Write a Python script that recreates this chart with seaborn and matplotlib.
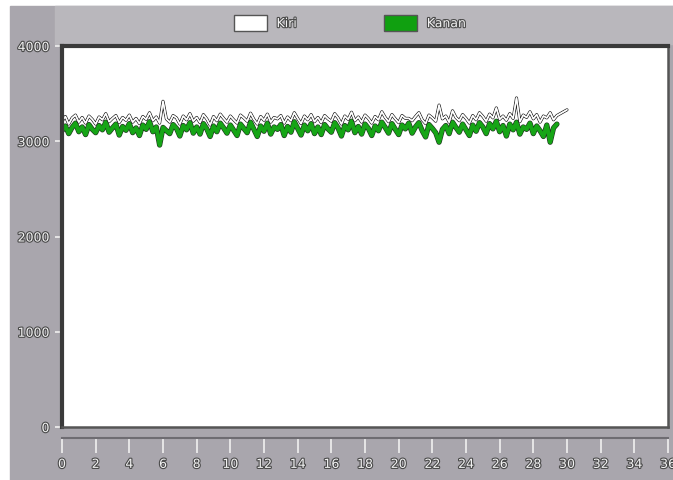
"""
Kiri / Kanan signal chart in a LabVIEW-like panel.
"""

## Import packages
import numpy as np
import pandas as pd
import matplotlib.pyplot as plt
import matplotlib.patheffects as pe
from matplotlib.patches import Rectangle, Patch
import seaborn as sns


## Data (sample step 0.2 s)
kiri = [3210, 3260, 3180, 3245, 3275, 3200, 3250, 3190, 3265, 3230,
        3180, 3255, 3225, 3290, 3205, 3240, 3270, 3195, 3250, 3220,
        3275, 3200, 3240, 3185, 3260, 3230, 3300, 3215, 3255, 3190,
        3420, 3235, 3200, 3270, 3245, 3180, 3265, 3225, 3290, 3210,
        3250, 3195, 3280, 3235, 3170, 3260, 3215, 3285, 3240, 3200,
        3265, 3225, 3190, 3275, 3245, 3210, 3295, 3230, 3180, 3260,
        3220, 3285, 3200, 3250, 3235, 3270, 3190, 3255, 3215, 3300,
        3240, 3185, 3265, 3225, 3280, 3205, 3250, 3195, 3270, 3235,
        3210, 3290, 3245, 3180, 3265, 3230, 3305, 3215, 3255, 3200,
        3275, 3240, 3190, 3260, 3225, 3310, 3250, 3205, 3280, 3235,
        3195, 3270, 3240, 3240, 3215, 3260, 3300, 3225, 3185, 3275,
        3245, 3210, 3380, 3235, 3265, 3200, 3320, 3250, 3215, 3280,
        3240, 3190, 3270, 3225, 3300, 3260, 3210, 3285, 3245, 3350,
        3230, 3265, 3220, 3290, 3240, 3455, 3205, 3275, 3250, 3310,
        3235, 3280, 3200, 3265, 3245, 3300, 3225, 3270, 3290, 3310,
        3330]
kanan = [3110, 3160, 3080, 3145, 3190, 3100, 3150, 3070, 3175, 3125,
         3090, 3165, 3120, 3200, 3095, 3140, 3180, 3065, 3155, 3115,
         3185, 3090, 3140, 3060, 3170, 3125, 3205, 3100, 3150, 2960,
         3145, 3110, 3080, 3175, 3135, 3055, 3165, 3120, 3195, 3085,
         3150, 3075, 3185, 3130, 3050, 3160, 3100, 3190, 3140, 3085,
         3170, 3115, 3060, 3180, 3135, 3090, 3200, 3125, 3050, 3160,
         3105, 3190, 3075, 3150, 3125, 3175, 3060, 3155, 3095, 3205,
         3135, 3065, 3170, 3110, 3185, 3080, 3150, 3070, 3175, 3130,
         3095, 3195, 3140, 3055, 3165, 3120, 3210, 3090, 3155, 3075,
         3180, 3135, 3060, 3160, 3110, 3200, 3145, 3085, 3185, 3125,
         3070, 3170, 3130, 3190, 3085, 3150, 3195, 3110, 3045, 3175,
         3135, 3090, 2990, 3125, 3165, 3080, 3200, 3145, 3095, 3180,
         3120, 3060, 3170, 3105, 3195, 3150, 3080, 3185, 3130, 3210,
         3100, 3165, 3055, 3180, 3120, 3200, 3075, 3150, 3125, 3190,
         3080, 3160, 3110, 3050, 3170, 2990, 3140, 3180]

step = 0.2
df_kiri = pd.DataFrame({'t': np.arange(len(kiri)) * step, 'val': kiri})
df_kanan = pd.DataFrame({'t': np.arange(len(kanan)) * step, 'val': kanan})

x_ticks = list(range(0, 37, 2))
y_ticks = [0, 1000, 2000, 3000, 4000]


## Style
sns.set_theme(style='white')
plt.rcParams['font.family'] = ['Liberation Sans Narrow', 'DejaVu Sans']

W, H = 673, 481
panel = '#a9a6ad'
strip = '#b9b7bc'
green = '#16a516'
engraved = [pe.withStroke(linewidth=1.6, foreground='#4a4a4a')]
txt_col = '#f2f2f2'


## Figure
fig = plt.figure(figsize=(W / 100, H / 100), dpi=100, facecolor='white')

# Grey panel and lighter legend strip (behind the axes)
fig.patches.append(Rectangle((10 / W, 0), 1 - 10 / W, 1 - 7 / H,
                             transform=fig.transFigure, color=panel, zorder=-10))
fig.patches.append(Rectangle((55 / W, 1 - 45 / H), 1 - 55 / W, 38 / H,
                             transform=fig.transFigure, color=strip, zorder=-9))

# Plot area
ax = fig.add_axes([62 / W, 53 / H, 606 / W, 381 / H])
ax.set_facecolor('white')

sns.lineplot(data=df_kanan, x='t', y='val', ax=ax, color=green, linewidth=2.6,
             path_effects=[pe.withStroke(linewidth=3.8, foreground='#1f3a1f'),
                           pe.Normal()])
sns.lineplot(data=df_kiri, x='t', y='val', ax=ax, color='white', linewidth=1.0,
             path_effects=[pe.withStroke(linewidth=2.2, foreground='#222222'),
                           pe.Normal()])

ax.set_xlim(0, 36)
ax.set_ylim(0, 4000)
ax.set_xlabel('')
ax.set_ylabel('')
ax.set_yticks(y_ticks)
ax.set_xticks([])

for side, col, lw in [('top', '#3a3a3a', 3), ('left', '#3a3a3a', 3),
                      ('bottom', '#555555', 1.8), ('right', '#555555', 1.8)]:
    ax.spines[side].set_visible(True)
    ax.spines[side].set_color(col)
    ax.spines[side].set_linewidth(lw)

ax.tick_params(axis='y', left=True, direction='out', length=5, width=1.2,
               color='#f0f0f0', pad=4, labelsize=9, labelcolor=txt_col)
for lab in ax.get_yticklabels():
    lab.set_path_effects(engraved)

# Separate x ruler below the plot
sec = ax.secondary_xaxis(-0.03)
sec.set_xticks(x_ticks)
sec.spines['bottom'].set_color('#6e6c72')
sec.spines['bottom'].set_linewidth(1.5)
sec.tick_params(bottom=True, direction='out', length=11, width=1.2,
                color='#f0f0f0', pad=3, labelsize=9, labelcolor=txt_col)
for lab in sec.get_xticklabels():
    lab.set_path_effects(engraved)

# Legend in the top strip
handles = [Patch(facecolor='white', edgecolor='#555555', label='Kiri'),
           Patch(facecolor='#10a010', edgecolor='#555555', label='Kanan')]
leg = fig.legend(handles=handles, loc='center', bbox_to_anchor=(0.52, 1 - 24 / H),
                 ncol=2, frameon=False, fontsize=9, handlelength=2.6,
                 handleheight=1.5, columnspacing=7, labelcolor=txt_col)
for t in leg.get_texts():
    t.set_path_effects(engraved)

plt.savefig('out.png', dpi=100, facecolor=fig.get_facecolor())
